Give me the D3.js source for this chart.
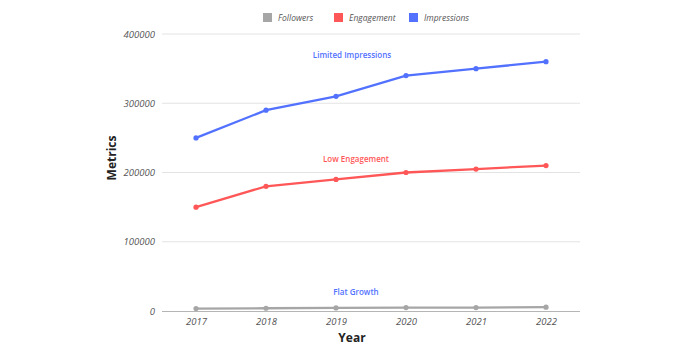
<!DOCTYPE html>
<html><head><meta charset="utf-8">
<script src="https://cdn.jsdelivr.net/npm/d3@7"></script>
<style>body{margin:0;background:#fff}svg text{font-family:"Open Sans",sans-serif}</style>
</head><body><svg id="c" width="700" height="350"></svg>
<script>
const years = ["2017","2018","2019","2020","2021","2022"];
const followers = [3500,4000,4500,5000,5000,5500];
const engagement = [150000,180000,190000,200000,205000,210000];
const impressions = [250000,290000,310000,340000,350000,360000];
const yTicks = [0,100000,200000,300000,400000];
const seriesNames = ["Followers","Engagement","Impressions"];
const colors = ["#a6a6a6","#ff5757","#5271ff"];
const notes = [{text:"Limited Impressions",year:"2019",value:365000,dx:16,color:"#5271ff"},
               {text:"Low Engagement",year:"2019",value:215000,dx:20,color:"#ff5757"},
               {text:"Flat Growth",year:"2019",value:23000,dx:20,color:"#5271ff"}];

const svg = d3.select("#c");
const L=162,R=580,T=34,B=311;
const x = d3.scalePoint().domain(years).range([196,546]);
const y = d3.scaleLinear().domain([0,400000]).range([B,T]);

svg.append("g").selectAll("line").data(yTicks.filter(d=>d>0)).join("line")
  .attr("x1",L).attr("x2",R).attr("y1",d=>y(d)).attr("y2",d=>y(d))
  .attr("stroke","#e3e3e3").attr("stroke-width",1);
svg.append("line").attr("x1",L).attr("x2",R).attr("y1",B+0.5).attr("y2",B+0.5).attr("stroke","#b5b5b5");

const yAxis = d3.axisLeft(y).tickValues(yTicks).tickSize(0).tickPadding(7).tickFormat(d3.format("d"));
svg.append("g").attr("transform",`translate(${L},0)`).call(yAxis)
  .call(g=>g.select(".domain").remove())
  .selectAll("text").attr("font-size",9.5).attr("font-style","italic").attr("fill","#555");
const xAxis = d3.axisBottom(x).tickSize(0).tickPadding(7);
svg.append("g").attr("transform",`translate(0,${B})`).call(xAxis)
  .call(g=>g.select(".domain").remove())
  .selectAll("text").attr("font-size",9.5).attr("font-style","italic").attr("fill","#555");

svg.append("text").attr("x",352).attr("y",342).attr("text-anchor","middle")
  .attr("font-size",12).attr("font-weight","bold").attr("fill","#222").text("Year");
svg.append("text").attr("transform","translate(116,158) rotate(-90)").attr("text-anchor","middle")
  .attr("font-size",12).attr("font-weight","bold").attr("fill","#222").text("Metrics");

const data = [followers,engagement,impressions];
const line = d3.line().x((d,i)=>x(years[i])).y(d=>y(d));
data.forEach((s,k)=>{
  svg.append("path").datum(s).attr("d",line).attr("fill","none")
    .attr("stroke",colors[k]).attr("stroke-width",2.3);
  svg.append("g").selectAll("circle").data(s).join("circle")
    .attr("cx",(d,i)=>x(years[i])).attr("cy",d=>y(d)).attr("r",2.6).attr("fill",colors[k]);
});

svg.append("g").selectAll("text").data(notes).join("text")
  .attr("x",d=>x(d.year)+d.dx).attr("y",d=>y(d.value)).attr("text-anchor","middle")
  .attr("font-size",8).attr("font-weight","600").attr("fill",d=>d.color).text(d=>d.text);

const legX = [263,334,409];
const lg = svg.append("g").selectAll("g").data(seriesNames).join("g")
  .attr("transform",(d,i)=>`translate(${legX[i]},13)`);
lg.append("rect").attr("width",9).attr("height",9).attr("fill",(d,i)=>colors[i]);
lg.append("text").attr("x",15).attr("y",8).attr("font-size",8.5).attr("font-style","italic")
  .attr("fill","#555").text(d=>d);
</script></body></html>
